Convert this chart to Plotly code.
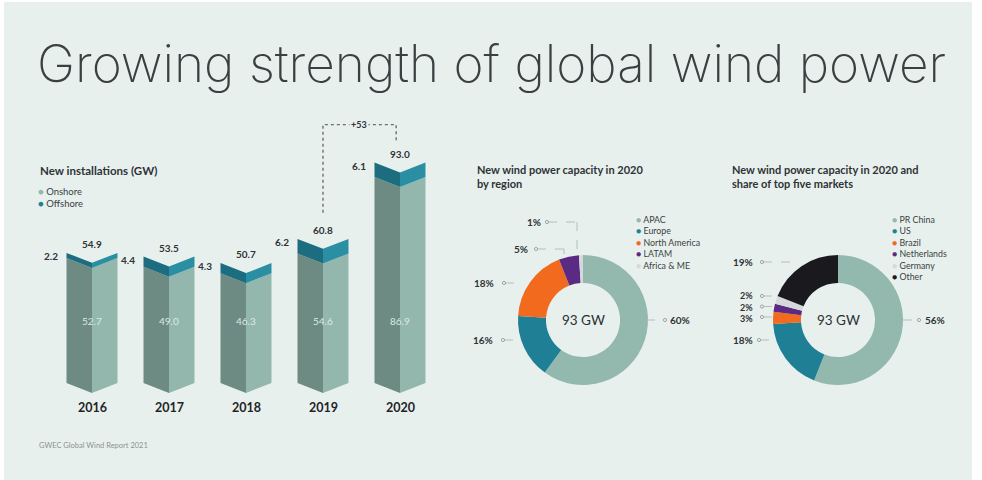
import plotly.graph_objects as go

# ---------------- data ----------------
years = ["2016", "2017", "2018", "2019", "2020"]
onshore = [52.7, 49.0, 46.3, 54.6, 86.9]
offshore = [2.2, 4.4, 4.3, 6.2, 6.1]
totals = [54.9, 53.5, 50.7, 60.8, 93.0]
growth_label = "+53"

region_labels = ["APAC", "Europe", "North America", "LATAM", "Africa & ME"]
region_values = [60, 16, 18, 5, 1]
region_colors = ["#93b8ad", "#1f7f95", "#f26a1e", "#5b2a83", "#d5d9db"]

market_labels = ["PR China", "US", "Brazil", "Netherlands", "Germany", "Other"]
market_values = [56, 18, 3, 2, 2, 19]
market_colors = ["#93b8ad", "#1f7f95", "#f26a1e", "#5b2a83", "#d5d9db", "#19191e"]

# ---------------- style ----------------
W, H = 982, 480
BG = "#e8f0ee"
FONT = "Lato, 'Open Sans', sans-serif"
TXT = "#2e3335"
ON_L, ON_R = "#6d8b83", "#93b7ad"
OFF_L, OFF_R = "#1c6d7f", "#2a8fa3"

half_w = 0.331   # half bar width (x units)
dv = 4.2         # depth of V shape (y units)

def px(x):
    return x / W

def py(y):
    return 1 - y / H

fig = go.Figure()

# ------------- 3D chevron bars -------------
def faces(base_fn, top_fn):
    lx, ly, rx, ry = [], [], [], []
    for i in range(len(years)):
        b = base_fn(i)
        t = top_fn(i)
        lx += [i - half_w, i, i, i - half_w, i - half_w, None]
        ly += [b, b - dv, t - dv, t, b, None]
        rx += [i, i + half_w, i + half_w, i, i, None]
        ry += [b - dv, b, t, t - dv, b - dv, None]
    return lx, ly, rx, ry

lx, ly, rx, ry = faces(lambda i: 0, lambda i: onshore[i])
fig.add_trace(go.Scatter(x=lx, y=ly, fill="toself", fillcolor=ON_L, mode="lines",
                         line=dict(width=0, color=ON_L), hoverinfo="skip", showlegend=False))
fig.add_trace(go.Scatter(x=rx, y=ry, fill="toself", fillcolor=ON_R, mode="lines",
                         line=dict(width=0, color=ON_R), hoverinfo="skip", showlegend=False))
lx, ly, rx, ry = faces(lambda i: onshore[i], lambda i: onshore[i] + offshore[i])
fig.add_trace(go.Scatter(x=lx, y=ly, fill="toself", fillcolor=OFF_L, mode="lines",
                         line=dict(width=0, color=OFF_L), hoverinfo="skip", showlegend=False))
fig.add_trace(go.Scatter(x=rx, y=ry, fill="toself", fillcolor=OFF_R, mode="lines",
                         line=dict(width=0, color=OFF_R), hoverinfo="skip", showlegend=False))

# dotted growth bracket 2019 -> 2020
top_y = totals[4] + 16
fig.add_trace(go.Scatter(
    x=[3, 3, 3.95, 3.95],
    y=[totals[3] + 11, top_y, top_y, totals[4] + 8.3],
    mode="lines", line=dict(color="#6a6f70", width=1.4, dash="dot"),
    hoverinfo="skip", showlegend=False))

annotations = []
for i, yr in enumerate(years):
    annotations.append(dict(x=i, y=totals[i] + 3.6, xref="x", yref="y", text=f"{totals[i]:.1f}",
                            showarrow=False, font=dict(size=10, color=TXT, family=FONT, weight="bold"),
                            yanchor="middle"))
    annotations.append(dict(x=i - half_w - 0.09, y=totals[i] - 1.5, xref="x", yref="y",
                            text=f"{offshore[i]:.1f}", showarrow=False, xanchor="right",
                            font=dict(size=10, color=TXT, family=FONT, weight="bold")))
    annotations.append(dict(x=i, y=26, xref="x", yref="y", text=f"{onshore[i]:.1f}",
                            showarrow=False, font=dict(size=10, color="#dde9e5", family=FONT)))
    annotations.append(dict(x=i, y=-10.2, xref="x", yref="y", text=yr, showarrow=False,
                            font=dict(size=12.5, color="#1f2426", family=FONT, weight="bold")))
annotations.append(dict(x=3.47, y=top_y, xref="x", yref="y", text=growth_label, showarrow=False,
                        bgcolor=BG, font=dict(size=9, color=TXT, family=FONT, weight="bold")))

# ------------- donuts -------------
def dom(cx, cy, r):
    return dict(x=[px(cx - r), px(cx + r)], y=[py(cy + r), py(cy - r)])

fig.add_trace(go.Pie(labels=region_labels, values=region_values, hole=0.57, sort=False,
                     direction="clockwise", rotation=0, textinfo="none",
                     marker=dict(colors=region_colors, line=dict(width=0)),
                     domain=dom(583, 320, 65), showlegend=False, hoverinfo="label+percent"))
fig.add_trace(go.Pie(labels=market_labels, values=market_values, hole=0.57, sort=False,
                     direction="clockwise", rotation=0, textinfo="none",
                     marker=dict(colors=market_colors, line=dict(width=0)),
                     domain=dom(838, 320, 65), showlegend=False, hoverinfo="label+percent"))

# ------------- text in paper coords -------------
def ptxt(x, y, text, size=10, color=TXT, xanchor="left", weight="normal", yanchor="middle", family=FONT, **kw):
    annotations.append(dict(x=px(x), y=py(y), xref="paper", yref="paper", text=text, showarrow=False,
                            xanchor=xanchor, yanchor=yanchor, align=kw.pop("align", "left"),
                            font=dict(size=size, color=color, family=family, weight=weight), **kw))

ptxt(35, 63, "Growing strength of global wind power", size=51.3, color="#3a3f41", weight=200,
     family="Inter, 'Open Sans', Roboto, sans-serif")

ptxt(38, 170, "New installations (GW)", size=11.5, weight="bold")
ptxt(36, 197, f"<span style='color:{ON_R}'>●</span> Onshore<br><span style='color:#1f7f95'>●</span> Offshore",
     size=9.5, color="#3a3f41")

ptxt(475, 176, "New wind power capacity in 2020<br>by region", size=11, weight="bold")
ptxt(730, 176, "New wind power capacity in 2020 and<br>share of top five markets", size=11, weight="bold")

leg1 = "<br>".join(f"<span style='color:{c}'>●</span> {l}" for l, c in zip(region_labels, region_colors))
ptxt(634, 242.5, leg1, size=8.8, color="#3a3f41")
leg2 = "<br>".join(f"<span style='color:{c}'>●</span> {l}" for l, c in zip(market_labels, market_colors))
ptxt(890, 247.5, leg2, size=8.8, color="#3a3f41")

ptxt(583, 320, "93 GW", size=13.5, xanchor="center", color="#2a2f31")
ptxt(838, 320, "93 GW", size=13.5, xanchor="center", color="#2a2f31")

ptxt(37, 445, "GWEC Global Wind Report 2021", size=7.5, color="#8a9292")

shapes = []
LC = "#a9b0b0"

def leader(points, dot, label=None, lx=None, ly=None, anchor="right", size=10):
    for (x0, y0), (x1, y1) in zip(points[:-1], points[1:]):
        shapes.append(dict(type="line", xref="paper", yref="paper", x0=px(x0), y0=py(y0),
                           x1=px(x1), y1=py(y1), line=dict(color=LC, width=0.8, dash="dash")))
    r = 1.6
    shapes.append(dict(type="circle", xref="paper", yref="paper", x0=px(dot[0] - r), x1=px(dot[0] + r),
                       y0=py(dot[1] + r), y1=py(dot[1] - r), line=dict(color="#8c9494", width=0.8),
                       fillcolor=BG))
    if label is not None:
        ptxt(lx, ly, label, size=size, weight="bold", xanchor=anchor)

pct = lambda v: f"{v}%"
# donut 1
leader([(646, 320), (664, 320)], (665, 320), pct(region_values[0]), 668, 320, "left")
leader([(504, 340), (518, 340)], (503, 340), pct(region_values[1]), 495, 340)
leader([(505, 283), (521, 283)], (504, 283), pct(region_values[2]), 496, 283)
leader([(537, 249), (564, 249), (564, 254)], (536, 249), pct(region_values[3]), 530, 249)
leader([(548, 222), (577, 222), (577, 253)], (547, 222), pct(region_values[4]), 543, 222)
# donut 2
leader([(903, 320), (918, 320)], (919, 320), pct(market_values[0]), 923, 320, "left")
leader([(760, 340), (774, 340)], (759, 340), pct(market_values[1]), 755, 340)
leader([(763, 317), (776, 317)], (762, 317))
leader([(763, 306.5), (776, 306.5)], (762, 306.5))
leader([(763, 296), (779, 296)], (762, 296))
ptxt(755, 306.5, "<br>".join(pct(v) for v in [market_values[4], market_values[3], market_values[2]]),
     size=9, weight="bold", xanchor="right", align="right")
leader([(763, 262), (790, 262)], (762, 262), pct(market_values[5]), 755, 262)

# background panel with thin white frame
shapes.insert(0, dict(type="rect", xref="paper", yref="paper", x0=px(4), x1=px(972), y0=0, y1=py(2),
                      fillcolor=BG, line=dict(width=0), layer="below"))

x_unit = 77.0
fig.update_layout(
    width=W, height=H, margin=dict(l=0, r=0, t=0, b=0),
    paper_bgcolor="#ffffff", plot_bgcolor="rgba(0,0,0,0)",
    xaxis=dict(domain=[0, 0.5], range=[-92 / x_unit, (491 - 92) / x_unit], visible=False, fixedrange=True),
    yaxis=dict(domain=[0, 1], range=[-97 / 2.37, 383 / 2.37], visible=False, fixedrange=True),
    annotations=annotations, shapes=shapes, showlegend=False,
    font=dict(family=FONT),
)

fig.write_html("out.html", config={"displayModeBar": False},
               post_script="document.body.style.margin='0';")
